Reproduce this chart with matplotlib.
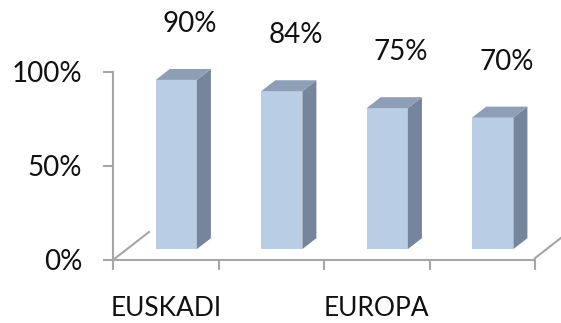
"""
3D-style column chart of four percentages, drawn with plain 2D patches.
Output: out.png
"""

import matplotlib
matplotlib.use("Agg")
import matplotlib.pyplot as plt
from matplotlib.patches import Polygon, Rectangle

VALUES = [0.90, 0.84, 0.75, 0.70]
VALUE_LABELS = ["90%", "84%", "75%", "70%"]
CAT_LABELS = ["EUSKADI", "", "EUROPA", ""]
Y_TICKS = [0.0, 0.5, 1.0]
Y_TICK_LABELS = ["0%", "50%", "100%"]

FRONT = "#b9cde5"
TOP = "#8d9eb5"
SIDE = "#75859b"
AXIS = "#a6a6a6"

# fake depth of the columns / floor, in data units
BAR_X0, BAR_W, BAR_BASE = 0.405, 0.39, 0.058
DEPTH_X, DEPTH_Y = 0.133, 0.058
FLOOR_X, FLOOR_Y = 0.341, 0.149

plt.rcParams["font.family"] = ["Lato", "DejaVu Sans"]

fig = plt.figure(figsize=(5.61, 3.23), dpi=100)
ax = fig.add_axes([113 / 561, 63 / 323, 422 / 561, 188 / 323])
n = len(VALUES)
ax.set_xlim(0, n)
ax.set_ylim(0, 1)

for i, v in enumerate(VALUES):
    x0 = i + BAR_X0
    x1 = x0 + BAR_W
    y0, y1 = BAR_BASE, BAR_BASE + v
    ax.add_patch(Rectangle((x0, y0), BAR_W, v, facecolor=FRONT,
                           edgecolor="none", clip_on=False, zorder=3))
    ax.add_patch(Polygon([(x1, y0), (x1 + DEPTH_X, y0 + DEPTH_Y),
                          (x1 + DEPTH_X, y1 + DEPTH_Y), (x1, y1)],
                         facecolor=SIDE, edgecolor="none", clip_on=False, zorder=3))
    ax.add_patch(Polygon([(x0, y1), (x0 + DEPTH_X, y1 + DEPTH_Y),
                          (x1 + DEPTH_X, y1 + DEPTH_Y), (x1, y1)],
                         facecolor=TOP, edgecolor="none", clip_on=False, zorder=3))
    ax.text(i + 0.73, v + 0.355, VALUE_LABELS[i], ha="center", va="center",
            fontsize=20, color="#111111", clip_on=False)

# floor edges running to the back
ax.plot([0, FLOOR_X], [0, FLOOR_Y], color=AXIS, lw=1.5, clip_on=False, zorder=2)
ax.plot([n, n + FLOOR_X], [0.01, 0.01 + FLOOR_Y], color=AXIS, lw=1.5,
        clip_on=False, zorder=2)

for side in ("top", "right"):
    ax.spines[side].set_visible(False)
for side in ("left", "bottom"):
    ax.spines[side].set_color(AXIS)
    ax.spines[side].set_linewidth(1.5)

ax.set_yticks(Y_TICKS)
ax.set_yticklabels(Y_TICK_LABELS)
ax.tick_params(axis="y", length=7.2, width=1.5, color=AXIS, pad=15,
               labelsize=20, labelcolor="#111111")

ax.set_xticks(range(n + 1))
ax.set_xticklabels([])
ax.set_xticks([i + 0.5 for i in range(n)], minor=True)
ax.set_xticklabels(CAT_LABELS, minor=True)
ax.tick_params(axis="x", which="major", length=7.2, width=1.5, color=AXIS)
ax.tick_params(axis="x", which="minor", length=0, pad=26, labelsize=19,
               labelcolor="#111111")

fig.savefig("out.png", dpi=100)
